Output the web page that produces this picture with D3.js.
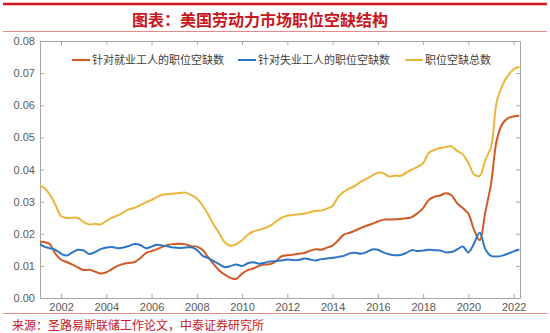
<!DOCTYPE html>
<meta charset="utf-8">
<script src="https://d3js.org/d3.v7.min.js"></script>
<style>
body { margin: 0; background: #fff; }
svg text { font-family: "Liberation Sans", Arial, sans-serif; }
.cjk { font-family: "Noto Sans CJK SC", sans-serif; }
.axis path, .axis line { stroke: #a6a6a6; }
.axis text { fill: #595959; font-size: 11px; }
</style>
<div id="chart"></div>
<script>

// quarterly observations, 2001Q1 .. 2022Q2
var dates = d3.range(86).map(function(i) { return 2001 + i * 0.25; });

var seriesNames = ["针对就业工人的职位空缺数", "针对失业工人的职位空缺数", "职位空缺总数"];

var employed = [
  0.0175, 0.0174, 0.0168, 0.0138,
  0.0119, 0.0112, 0.0104, 0.0095,
  0.0087, 0.0088, 0.0082, 0.0076,
  0.0080, 0.0090, 0.0100, 0.0106,
  0.0109, 0.0112, 0.0124, 0.0140,
  0.0146, 0.0152, 0.0160, 0.0166,
  0.0168, 0.0169, 0.0167, 0.0161,
  0.0160, 0.0150, 0.0127, 0.0105,
  0.0085, 0.0072, 0.0062, 0.0060,
  0.0076, 0.0087, 0.0092, 0.0100,
  0.0104, 0.0106, 0.0115, 0.0130,
  0.0133, 0.0135, 0.0138, 0.0140,
  0.0147, 0.0152, 0.0150, 0.0157,
  0.0163, 0.0180, 0.0197, 0.0203,
  0.0210, 0.0218, 0.0225, 0.0231,
  0.0238, 0.0244, 0.0244, 0.0245,
  0.0246, 0.0248, 0.0252, 0.0264,
  0.0280, 0.0305, 0.0315, 0.0319,
  0.0326, 0.0320, 0.0295, 0.0280,
  0.0262, 0.0212, 0.0180, 0.0268,
  0.0355, 0.0490, 0.0542, 0.0560,
  0.0565, 0.0567
];

var unemployed = [
  0.0172, 0.0160, 0.0155, 0.0150,
  0.0138, 0.0132, 0.0142, 0.0150,
  0.0148, 0.0137, 0.0143, 0.0152,
  0.0157, 0.0159, 0.0155, 0.0157,
  0.0162, 0.0168, 0.0165, 0.0155,
  0.0160, 0.0166, 0.0163, 0.0160,
  0.0157, 0.0156, 0.0157, 0.0158,
  0.0150, 0.0132, 0.0124, 0.0115,
  0.0105, 0.0096, 0.0100, 0.0104,
  0.0100, 0.0108, 0.0111, 0.0107,
  0.0110, 0.0114, 0.0115, 0.0117,
  0.0120, 0.0118, 0.0118, 0.0123,
  0.0120, 0.0117, 0.0121, 0.0123,
  0.0125, 0.0128, 0.0131, 0.0139,
  0.0141, 0.0138, 0.0143, 0.0151,
  0.0150, 0.0142, 0.0136, 0.0133,
  0.0134, 0.0140, 0.0149, 0.0146,
  0.0148, 0.0150, 0.0149, 0.0148,
  0.0142, 0.0143, 0.0151, 0.0160,
  0.0142, 0.0170, 0.0203, 0.0152,
  0.0131, 0.0129, 0.0132, 0.0138,
  0.0145, 0.0151
];

var total = [
  0.0352, 0.0343, 0.0322, 0.0290,
  0.0255, 0.0249, 0.0250, 0.0249,
  0.0236, 0.0229, 0.0231, 0.0229,
  0.0240, 0.0250, 0.0257, 0.0266,
  0.0276, 0.0281, 0.0289, 0.0298,
  0.0305, 0.0315, 0.0322, 0.0323,
  0.0325, 0.0327, 0.0328, 0.0320,
  0.0310, 0.0288, 0.0260, 0.0228,
  0.0200, 0.0172, 0.0163, 0.0168,
  0.0180, 0.0197, 0.0207, 0.0212,
  0.0217, 0.0225, 0.0238, 0.0250,
  0.0256, 0.0258, 0.0261, 0.0263,
  0.0267, 0.0271, 0.0272, 0.0278,
  0.0287, 0.0315, 0.0331, 0.0341,
  0.0350, 0.0362, 0.0371, 0.0381,
  0.0390, 0.0388, 0.0378, 0.0381,
  0.0380, 0.0390, 0.0400, 0.0408,
  0.0420, 0.0452, 0.0461, 0.0467,
  0.0470, 0.0472, 0.0458, 0.0447,
  0.0420, 0.0385, 0.0380, 0.0430,
  0.0470, 0.0610, 0.0662, 0.0692,
  0.0712, 0.0720
];

var colors = ["#cf5a24", "#2e75c2", "#ebb53a"];
var xTicks = [2002, 2004, 2006, 2008, 2010, 2012, 2014, 2016, 2018, 2020, 2022];
var yTicks = [0, 0.01, 0.02, 0.03, 0.04, 0.05, 0.06, 0.07, 0.08];

var W = 550, H = 333;
var plot = {left: 40, right: 520, top: 41, bottom: 298};

var svg = d3.select("#chart")
  .append("svg")
    .attr("width", W)
    .attr("height", H);

// header: thick red rule, title, thin rule
svg.append("line")
  .attr("x1", 3).attr("x2", 547).attr("y1", 4).attr("y2", 4)
  .attr("stroke", "#d0161e").attr("stroke-width", 2.5);

svg.append("text")
  .attr("class", "cjk")
  .attr("x", 260).attr("y", 26)
  .attr("text-anchor", "middle")
  .attr("font-size", "16px")
  .attr("font-weight", "bold")
  .attr("fill", "#c8161d")
  .text("图表：美国劳动力市场职位空缺结构");

svg.append("line")
  .attr("x1", 3).attr("x2", 547).attr("y1", 31.5).attr("y2", 31.5)
  .attr("stroke", "#e48a8a").attr("stroke-width", 1);

var x = d3.scaleLinear()
  .domain([2001.07, 2022.28])
  .range([plot.left, plot.right]);

var y = d3.scaleLinear()
  .domain([0, 0.08])
  .range([plot.bottom, plot.top]);

// axes with inward ticks on all four sides
svg.append("g")
  .attr("class", "axis")
  .attr("transform", "translate(0," + plot.bottom + ")")
  .call(d3.axisBottom(x).tickValues(xTicks).tickFormat(d3.format("d"))
    .tickSizeInner(-4).tickSizeOuter(0).tickPadding(5));

svg.append("g")
  .attr("class", "axis")
  .attr("transform", "translate(0," + plot.top + ")")
  .call(d3.axisTop(x).tickValues(xTicks).tickFormat("")
    .tickSizeInner(-4).tickSizeOuter(0));

svg.append("g")
  .attr("class", "axis")
  .attr("transform", "translate(" + plot.left + ",0)")
  .call(d3.axisLeft(y).tickValues(yTicks).tickFormat(d3.format(".2f"))
    .tickSizeInner(-4).tickSizeOuter(0).tickPadding(5));

svg.append("g")
  .attr("class", "axis")
  .attr("transform", "translate(" + plot.right + ",0)")
  .call(d3.axisRight(y).tickValues(yTicks).tickFormat("")
    .tickSizeInner(-4).tickSizeOuter(0));

svg.append("clipPath")
  .attr("id", "clip")
  .append("rect")
    .attr("x", plot.left).attr("y", plot.top)
    .attr("width", plot.right - plot.left)
    .attr("height", plot.bottom - plot.top);

var line = d3.line()
  .x(function(d, i) { return x(dates[i]); })
  .y(function(d) { return y(d); })
  .curve(d3.curveCatmullRom);

var series = [employed, unemployed, total];

svg.append("g")
  .attr("clip-path", "url(#clip)")
  .selectAll("path")
  .data(series)
  .enter()
  .append("path")
    .attr("fill", "none")
    .attr("stroke", function(d, i) { return colors[i]; })
    .attr("stroke-width", 2)
    .attr("stroke-linejoin", "round")
    .attr("d", line);

// legend across the top of the plot
var legendX = [72, 238, 405];
var legend = svg.selectAll(".legend")
  .data(seriesNames)
  .enter()
  .append("g")
    .attr("class", "legend")
    .attr("transform", function(d, i) { return "translate(" + legendX[i] + ",60)"; });

legend.append("line")
  .attr("x1", 0).attr("x2", 18)
  .attr("stroke", function(d, i) { return colors[i]; })
  .attr("stroke-width", 2);

legend.append("text")
  .attr("class", "cjk")
  .attr("x", 20).attr("y", 4)
  .attr("font-size", "11px")
  .attr("fill", "#404040")
  .text(function(d) { return d; });

// source note
svg.append("line")
  .attr("x1", 3).attr("x2", 547).attr("y1", 313.5).attr("y2", 313.5)
  .attr("stroke", "#e48a8a").attr("stroke-width", 1);

svg.append("text")
  .attr("class", "cjk")
  .attr("x", 12).attr("y", 330)
  .attr("font-size", "12px")
  .attr("fill", "#c8161d")
  .text("来源：圣路易斯联储工作论文，中泰证券研究所");

</script>
